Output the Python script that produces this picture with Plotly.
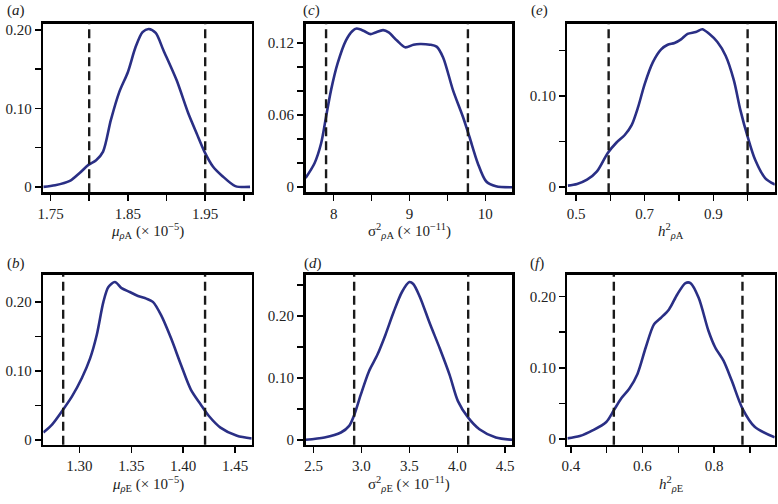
import plotly.graph_objects as go

# ---------------- data ----------------
# (a) mu_rhoA  (x 1e-5)
muA_x = [1.7407, 1.756, 1.775, 1.788, 1.799, 1.809, 1.818, 1.828, 1.839, 1.850, 1.860, 1.869,
         1.877, 1.886, 1.896, 1.913, 1.928, 1.939, 1.949, 1.960, 1.972, 1.989, 2.008]
muA_d = [0.0, 0.002, 0.0076, 0.018, 0.028, 0.034, 0.045, 0.085, 0.121, 0.146, 0.178, 0.197,
         0.201, 0.196, 0.174, 0.136, 0.094, 0.068, 0.045, 0.026, 0.014, 0.001, 0.0]
muA_ci = [1.80, 1.95]

# (c) sigma2_rhoA (x 1e-11)
sgA_x = [7.63, 7.748, 7.835, 7.90, 7.965, 8.052, 8.161, 8.248, 8.304, 8.40, 8.487, 8.552, 8.652,
         8.726, 8.835, 8.943, 9.052, 9.139, 9.27, 9.357, 9.443, 9.574, 9.704, 9.79, 9.90,
         10.009, 10.14, 10.357]
sgA_d = [0.0077, 0.020, 0.0366, 0.0586, 0.0806, 0.103, 0.122, 0.130, 0.132, 0.130, 0.1274, 0.1288,
         0.1307, 0.1288, 0.122, 0.1164, 0.1186, 0.1192, 0.1186, 0.117, 0.108, 0.0806, 0.0586,
         0.042, 0.020, 0.005, 0.0008, 0.0]
sgA_ci = [7.90, 9.77]

# (e) h2_rhoA
hA_x = [0.476, 0.503, 0.532, 0.561, 0.592, 0.618, 0.642, 0.662, 0.681, 0.700, 0.724, 0.748, 0.767,
        0.787, 0.806, 0.825, 0.849, 0.868, 0.888, 0.912, 0.936, 0.960, 0.979, 1.000, 1.022,
        1.051, 1.080]
hA_d = [0.0018, 0.0036, 0.0083, 0.0174, 0.0373, 0.049, 0.0572, 0.068, 0.088, 0.113, 0.137, 0.151,
        0.156, 0.158, 0.162, 0.168, 0.170, 0.173, 0.168, 0.159, 0.144, 0.117, 0.0844, 0.0554,
        0.030, 0.0101, 0.0029]
hA_ci = [0.595, 1.00]

# (b) mu_rhoE (x 1e-5)
muE_x = [1.2654, 1.274, 1.2845, 1.293, 1.3025, 1.3105, 1.3168, 1.3232, 1.328, 1.3343, 1.3407,
         1.3486, 1.3565, 1.3645, 1.3708, 1.3787, 1.3883, 1.3978, 1.4073, 1.4168, 1.4247,
         1.4358, 1.4517, 1.4659]
muE_d = [0.0106, 0.0225, 0.044, 0.063, 0.0897, 0.1185, 0.152, 0.200, 0.2216, 0.2288, 0.2201,
         0.2144, 0.2086, 0.2048, 0.200, 0.1808, 0.1472, 0.1089, 0.0729, 0.0513, 0.0345,
         0.0177, 0.0058, 0.0019]
muE_ci = [1.2845, 1.421]

# (d) sigma2_rhoE (x 1e-11)
sgE_x = [2.417, 2.614, 2.786, 2.872, 2.927, 2.993, 3.079, 3.165, 3.251, 3.337, 3.423, 3.50, 3.541,
         3.61, 3.714, 3.817, 3.92, 4.007, 4.114, 4.231, 4.403, 4.576]
sgE_d = [0.0, 0.0037, 0.0118, 0.0225, 0.041, 0.073, 0.111, 0.137, 0.170, 0.207, 0.239, 0.255,
         0.252, 0.231, 0.188, 0.148, 0.105, 0.0626, 0.0358, 0.0171, 0.0037, 0.0]
sgE_ci = [2.924, 4.114]

# (f) h2_rhoE
hE_x = [0.390, 0.425, 0.462, 0.499, 0.520, 0.540, 0.563, 0.586, 0.609, 0.632, 0.651, 0.674, 0.697,
        0.720, 0.734, 0.757, 0.784, 0.803, 0.826, 0.849, 0.879, 0.913, 0.969]
hE_d = [0.001, 0.0042, 0.0125, 0.024, 0.0404, 0.0566, 0.0705, 0.0914, 0.1285, 0.161, 0.170, 0.182,
        0.203, 0.219, 0.219, 0.198, 0.152, 0.1285, 0.110, 0.0821, 0.0427, 0.0172, 0.0023]
hE_ci = [0.52, 0.879]

# tick values / labels
muA_xt = [1.75, 1.80, 1.85, 1.90, 1.95, 2.00]
muA_xl = ["1.75", "", "1.85", "", "1.95", ""]
sgA_xt = [8, 8.5, 9, 9.5, 10]
sgA_xl = ["8", "", "9", "", "10"]
hA_xt = [0.5, 0.6, 0.7, 0.8, 0.9, 1.0]
hA_xl = ["0.5", "", "0.7", "", "0.9", ""]
muE_xt = [1.30, 1.35, 1.40, 1.45]
muE_xl = ["1.30", "1.35", "1.40", "1.45"]
sgE_xt = [2.5, 3.0, 3.5, 4.0, 4.5]
sgE_xl = ["2.5", "3.0", "3.5", "4.0", "4.5"]
hE_xt = [0.4, 0.5, 0.6, 0.7, 0.8, 0.9]
hE_xl = ["0.4", "", "0.6", "", "0.8", ""]

y20_t = [0, 0.05, 0.10, 0.15, 0.20]
y20_l = ["0", "", "0.10", "", "0.20"]
y12_t = [0, 0.02, 0.04, 0.06, 0.08, 0.10, 0.12]
y12_l = ["0", "", "", "0.06", "", "", "0.12"]
y15_t = [0, 0.05, 0.10, 0.15]
y15_l = ["0", "", "0.10", ""]
y25_t = [0, 0.05, 0.10, 0.15, 0.20, 0.25]
y25_l = ["0", "", "0.10", "", "0.20", ""]

panel_labels = ["(<i>a</i>)", "(<i>c</i>)", "(<i>e</i>)", "(<i>b</i>)", "(<i>d</i>)", "(<i>f</i>)"]
x_titles = [
    "<i>μ</i><sub><i>ρ</i>A</sub> (× 10<sup>−5</sup>)",
    "σ<sup>2</sup><sub><i>ρ</i>A</sub> (× 10<sup>−11</sup>)",
    "<i>h</i><sup>2</sup><sub><i>ρ</i>A</sub>",
    "<i>μ</i><sub><i>ρ</i>E</sub> (× 10<sup>−5</sup>)",
    "σ<sup>2</sup><sub><i>ρ</i>E</sub> (× 10<sup>−11</sup>)",
    "<i>h</i><sup>2</sup><sub><i>ρ</i>E</sub>",
]

# ---------------- layout geometry (page pixels) ----------------
W, H = 778, 504
cols = [(37.7, 248.3), (302.7, 511.7), (567.3, 776.7)]
rows = [(22.7, 192.7), (276.0, 447.3)]
label_pos = [(10, 10), (309, 10), (539, 10), (10, 265), (310, 265), (537, 265)]
title_y = [232, 487]


def px_x(v):
    return v / W


def px_y(v):
    return 1 - v / H


panels = [
    dict(x=muA_x, y=muA_d, ci=muA_ci, xr=[1.7407, 2.0102], yr=[-0.0067, 0.208],
         xt=muA_xt, xl=muA_xl, yt=y20_t, yl=y20_l, c=0, r=0),
    dict(x=sgA_x, y=sgA_d, ci=sgA_ci, xr=[7.63, 10.357], yr=[-0.0041, 0.1362],
         xt=sgA_xt, xl=sgA_xl, yt=y12_t, yl=y12_l, c=1, r=0),
    dict(x=hA_x, y=hA_d, ci=hA_ci, xr=[0.475, 1.079], yr=[-0.0054, 0.1793],
         xt=hA_xt, xl=hA_xl, yt=y15_t, yl=y15_l, c=2, r=0),
    dict(x=muE_x, y=muE_d, ci=muE_ci, xr=[1.2654, 1.4659], yr=[-0.0072, 0.2393],
         xt=muE_xt, xl=muE_xl, yt=y20_t, yl=y20_l, c=0, r=1),
    dict(x=sgE_x, y=sgE_d, ci=sgE_ci, xr=[2.417, 4.576], yr=[-0.008, 0.2668],
         xt=sgE_xt, xl=sgE_xl, yt=y25_t, yl=y25_l, c=1, r=1),
    dict(x=hE_x, y=hE_d, ci=hE_ci, xr=[0.3906, 0.969], yr=[-0.008, 0.2306],
         xt=hE_xt, xl=hE_xl, yt=y20_t, yl=y20_l, c=2, r=1),
]

FONT = "Liberation Serif, Times New Roman, serif"
TXT = "#222222"
CURVE = "#2a2f85"

fig = go.Figure()
layout = dict(
    width=W, height=H, margin=dict(l=0, r=0, t=0, b=0),
    paper_bgcolor="white", plot_bgcolor="white", showlegend=False,
    font=dict(family=FONT, size=15, color=TXT),
)
annotations = []
shapes = []
for i, p in enumerate(panels):
    n = i + 1
    xa = "x" if n == 1 else f"x{n}"
    ya = "y" if n == 1 else f"y{n}"
    x0, x1 = cols[p["c"]]
    y0, y1 = rows[p["r"]]
    axis_common = dict(showline=True, mirror=True, linecolor="black", linewidth=2.5,
                       ticks="outside", ticklen=6, tickwidth=1.5, tickcolor="black",
                       showgrid=False, zeroline=False,
                       tickfont=dict(family=FONT, size=15, color=TXT))
    layout["xaxis" if n == 1 else f"xaxis{n}"] = dict(
        domain=[px_x(x0), px_x(x1)], range=p["xr"], anchor=ya,
        tickmode="array", tickvals=p["xt"], ticktext=p["xl"],
        **axis_common)
    layout["yaxis" if n == 1 else f"yaxis{n}"] = dict(
        domain=[px_y(y1), px_y(y0)], range=p["yr"], anchor=xa,
        tickmode="array", tickvals=p["yt"], ticktext=p["yl"],
        **axis_common)
    fig.add_trace(go.Scatter(x=p["x"], y=p["y"], mode="lines", xaxis=xa, yaxis=ya,
                             line=dict(color=CURVE, width=2.6, shape="spline", smoothing=0.8),
                             hoverinfo="skip"))
    for v in p["ci"]:
        shapes.append(dict(type="line", xref=xa, yref=f"{ya} domain", x0=v, x1=v, y0=0, y1=1,
                           line=dict(color="#1a1a1a", width=2.4, dash="9px,5px")))
    lx, ly = label_pos[i]
    annotations.append(dict(text=panel_labels[i], xref="paper", yref="paper",
                            x=px_x(lx), y=px_y(ly), showarrow=False,
                            xanchor="center", yanchor="middle",
                            font=dict(family=FONT, size=15, color=TXT)))
    # axis title placed as an annotation centred under the panel
    annotations.append(dict(text=x_titles[i], xref="paper", yref="paper",
                            x=px_x((x0 + x1) / 2), y=px_y(title_y[p["r"]]), showarrow=False,
                            xanchor="center", yanchor="middle",
                            font=dict(family=FONT, size=15, color=TXT)))

layout["annotations"] = annotations
layout["shapes"] = shapes
fig.update_layout(**layout)
# remove the browser's default 8px body margin so the figure fills the window exactly
fig.write_html("out.html",
               config={"displayModeBar": False, "staticPlot": True},
               post_script="document.body.style.margin='0';document.body.style.overflow='hidden';")
